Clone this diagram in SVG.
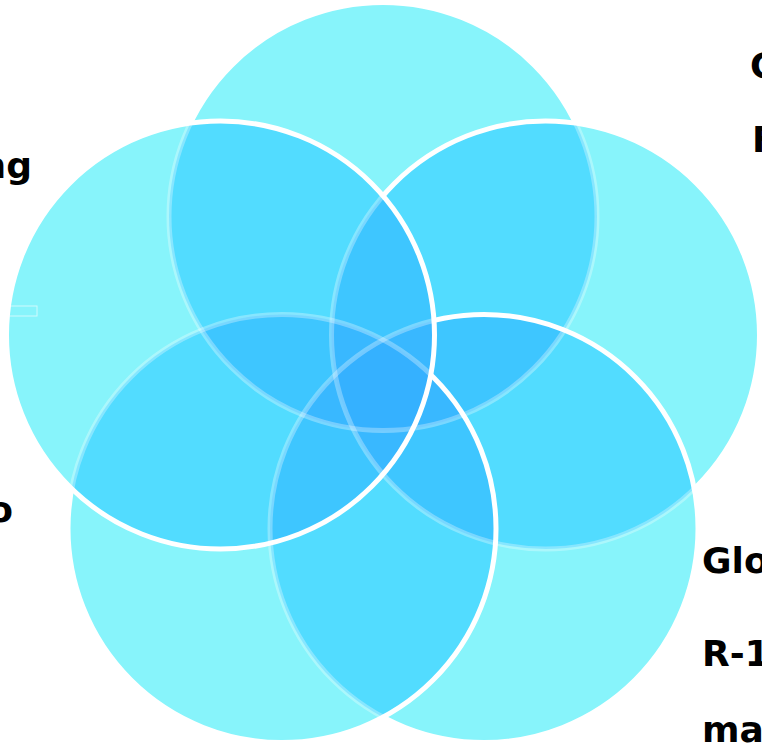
<svg xmlns="http://www.w3.org/2000/svg" width="762" height="744" viewBox="0 0 762 744">
<style>
.c1{fill:#87F4FB}
.c2{fill:#52DCFF}
.c3{fill:#3EC6FF}
.c4{fill:#39B8FF}
.c5{fill:#35B1FF}
.ring{fill:none;stroke:#FFFFFF;stroke-width:5}
.lbl{font-family:"DejaVu Sans","Verdana",sans-serif;font-weight:bold;font-size:36px;fill:#000000}
</style>
<defs>
<circle id="T" cx="383" cy="216.5" r="214"/>
<circle id="UL" cx="220.5" cy="335" r="214"/>
<circle id="UR" cx="545.5" cy="335" r="214"/>
<circle id="BL" cx="282" cy="528.5" r="214"/>
<circle id="BR" cx="484" cy="528.5" r="214"/>
<clipPath id="kT"><use href="#T"/></clipPath>
<clipPath id="kUL"><use href="#UL"/></clipPath>
<clipPath id="kUR"><use href="#UR"/></clipPath>
<clipPath id="kBL"><use href="#BL"/></clipPath>
<clipPath id="kBR"><use href="#BR"/></clipPath>
<mask id="mT" maskUnits="userSpaceOnUse" x="0" y="0" width="762" height="744">
<rect width="762" height="744" fill="#FFFFFF"/>
<g fill="#4E4E4E"><use href="#UR"/><use href="#BR"/><use href="#BL"/><use href="#UL"/></g>
</mask>
<mask id="mUR" maskUnits="userSpaceOnUse" x="0" y="0" width="762" height="744">
<rect width="762" height="744" fill="#FFFFFF"/>
<g fill="#4E4E4E"><use href="#BR"/><use href="#BL"/><use href="#UL"/></g>
</mask>
<mask id="mBR" maskUnits="userSpaceOnUse" x="0" y="0" width="762" height="744">
<rect width="762" height="744" fill="#FFFFFF"/>
<g fill="#4E4E4E"><use href="#BL"/><use href="#UL"/></g>
</mask>
<mask id="mBL" maskUnits="userSpaceOnUse" x="0" y="0" width="762" height="744">
<rect width="762" height="744" fill="#FFFFFF"/>
<g fill="#4E4E4E"><use href="#UL"/></g>
</mask>
</defs>
<rect width="762" height="744" fill="#FFFFFF"/>
<g id="venn-shading">
<g class="c1"><use href="#T"/><use href="#UL"/><use href="#UR"/><use href="#BL"/><use href="#BR"/></g>
<g class="c2">
<g clip-path="url(#kT)"><use href="#UL"/><use href="#UR"/><use href="#BL"/><use href="#BR"/></g>
<g clip-path="url(#kUL)"><use href="#UR"/><use href="#BL"/><use href="#BR"/></g>
<g clip-path="url(#kUR)"><use href="#BL"/><use href="#BR"/></g>
<g clip-path="url(#kBL)"><use href="#BR"/></g>
</g>
<g class="c3">
<g clip-path="url(#kT)"><g clip-path="url(#kUL)"><use href="#UR"/><use href="#BL"/><use href="#BR"/></g></g>
<g clip-path="url(#kT)"><g clip-path="url(#kUR)"><use href="#BL"/><use href="#BR"/></g></g>
<g clip-path="url(#kT)"><g clip-path="url(#kBL)"><use href="#BR"/></g></g>
<g clip-path="url(#kUL)"><g clip-path="url(#kUR)"><use href="#BL"/><use href="#BR"/></g></g>
<g clip-path="url(#kUL)"><g clip-path="url(#kBL)"><use href="#BR"/></g></g>
<g clip-path="url(#kUR)"><g clip-path="url(#kBL)"><use href="#BR"/></g></g>
</g>
<g class="c4">
<g clip-path="url(#kT)"><g clip-path="url(#kUL)"><g clip-path="url(#kUR)"><use href="#BL"/><use href="#BR"/></g></g></g>
<g clip-path="url(#kT)"><g clip-path="url(#kUL)"><g clip-path="url(#kBL)"><use href="#BR"/></g></g></g>
<g clip-path="url(#kT)"><g clip-path="url(#kUR)"><g clip-path="url(#kBL)"><use href="#BR"/></g></g></g>
<g clip-path="url(#kUL)"><g clip-path="url(#kUR)"><g clip-path="url(#kBL)"><use href="#BR"/></g></g></g>
</g>
<g class="c5">
<g clip-path="url(#kT)"><g clip-path="url(#kUL)"><g clip-path="url(#kUR)"><g clip-path="url(#kBL)"><use href="#BR"/></g></g></g></g>
</g>
</g>
<g id="node-top"><use href="#T" class="ring" mask="url(#mT)"/></g>
<g id="node-upper-right"><use href="#UR" class="ring" mask="url(#mUR)"/></g>
<g id="node-bottom-right"><use href="#BR" class="ring" mask="url(#mBR)"/></g>
<g id="node-bottom-left"><use href="#BL" class="ring" mask="url(#mBL)"/></g>
<g id="node-upper-left"><use href="#UL" class="ring"/></g>
<g id="textbox-empty"><rect x="7" y="306" width="30" height="10" fill="none" stroke="#FFFFFF" stroke-opacity="0.6" stroke-width="1"/></g>
<g id="labels">
<text class="lbl" x="750" y="78">C</text>
<text class="lbl" x="752" y="152">F</text>
<text class="lbl" x="32" y="178" text-anchor="end">ng</text>
<text class="lbl" x="13" y="522" text-anchor="end">o</text>
<text class="lbl" x="702" y="573">Glo</text>
<text class="lbl" x="702" y="666">R-1</text>
<text class="lbl" x="702" y="742">ma</text>
</g>
</svg>
